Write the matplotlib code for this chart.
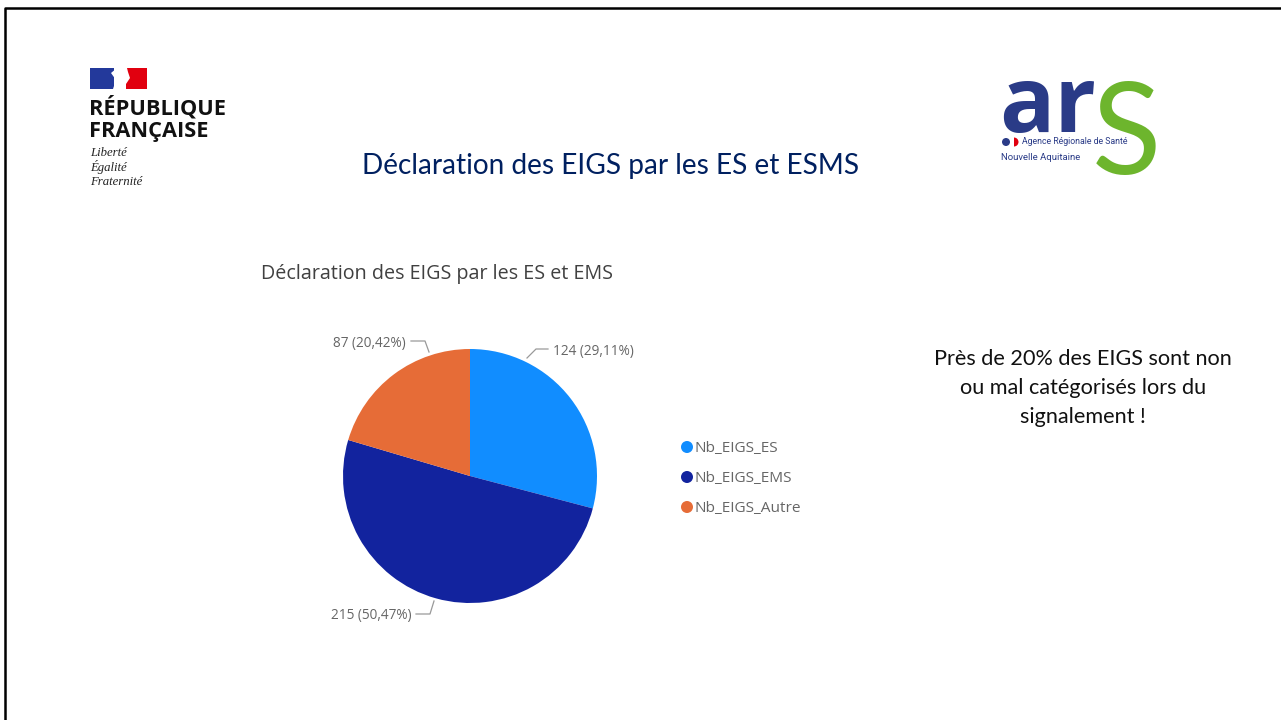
import matplotlib
matplotlib.use("Agg")
import matplotlib.pyplot as plt
from matplotlib.lines import Line2D
from matplotlib.patches import Circle, Polygon, Rectangle, Wedge

W, H = 1281, 720

categories = ["Nb_EIGS_ES", "Nb_EIGS_EMS", "Nb_EIGS_Autre"]
values = [124, 215, 87]
colors = ["#118DFF", "#12239E", "#E66C37"]

slide_title = "Déclaration des EIGS par les ES et ESMS"
chart_title = "Déclaration des EIGS par les ES et EMS"
note_lines = ["Près de 20% des EIGS sont non", "ou mal catégorisés lors du", "signalement !"]
motto = ["Liberté", "Égalité", "Fraternité"]


def pct_label(v):
    return f"{v} ({v / sum(values) * 100:.2f}%)".replace(".", ",")


fig = plt.figure(figsize=(W / 100, H / 100), dpi=100, facecolor="white")

# whole slide in pixel coordinates
bg = fig.add_axes([0, 0, 1, 1])
bg.set_xlim(0, W)
bg.set_ylim(H, 0)
bg.axis("off")

# slide border
bg.add_line(Line2D([5, 5, W], [H, 8, 8], color="black", lw=1.8))

# french republic logo
bg.add_patch(Rectangle((90, 68), 24, 21, color="#23399B", lw=0))
bg.add_patch(Rectangle((126, 68), 21, 21, color="#E1000F", lw=0))
bg.add_patch(Polygon([(113, 89), (116, 80), (111, 73), (117, 68), (127, 68), (128, 72),
                      (130, 78), (126, 84), (122, 89)], color="white", lw=0))
bg.text(89, 108, "RÉPUBLIQUE", family="Open Sans", weight="bold", size=15.7, color="#111111", va="center")
bg.text(89, 132, "FRANÇAISE", family="Open Sans", weight="bold", size=15.7, color="#111111", va="center")
for i, word in enumerate(motto):
    bg.text(90, 153 + i * 14.5, word, family="Liberation Serif", style="italic", size=9.2,
            color="#222222", va="center")

# ars logo
bg.text(999, 132, "ar", family="Open Sans", weight="bold", size=66, color="#2A3B87", va="baseline")
bg.text(1092, 174, "S", family="Lato", size=92, color="#6DB52D", va="baseline")
bg.add_patch(Circle((1006, 142), 4, color="#2A3B87", lw=0))
bg.add_patch(Wedge((1014, 142), 4.5, -90, 90, color="#E1000F", lw=0))
bg.text(1022, 142, "Agence Régionale de Santé", family="Roboto", size=6.3, color="#2A3B87", va="center")
bg.text(1001, 157, "Nouvelle Aquitaine", family="Roboto", size=6.8, color="#2A3B87", va="center")

# titles and note
bg.text(611, 166, slide_title, family="Lato", size=20.2, color="#002060", ha="center", va="center")
bg.text(261, 274, chart_title, family="Open Sans", size=14.2, color="#404040", va="center")
for i, line in enumerate(note_lines):
    bg.text(1083, 359 + i * 29, line, family="Lato", size=15.6, color="#111111", ha="center", va="center")

# pie
pie_ax = fig.add_axes([(470 - 127) / W, 1 - (476 + 127) / H, 254 / W, 254 / H])
pie_ax.pie(values, colors=colors, startangle=90, counterclock=False, radius=1)
pie_ax.set_xlim(-1, 1)
pie_ax.set_ylim(-1, 1)

# data labels with their leader lines, same order as values
label_pos = [(553, 351, "left"), (412, 616, "right"), (406, 343, "right")]
leaders = [
    ([527, 536, 548], [358, 349, 349]),
    ([434, 430, 416], [601, 614, 614]),
    ([429, 425, 411], [352, 341, 341]),
]
for v, (x, y, ha), (lx, ly) in zip(values, label_pos, leaders):
    bg.text(x, y, pct_label(v), family="Open Sans", size=9.8, color="#666666", ha=ha, va="center")
    bg.add_line(Line2D(lx, ly, color="#999999", lw=0.9))

# legend
for i, (cat, col) in enumerate(zip(categories, colors)):
    y = 447 + i * 30
    bg.add_patch(Circle((687, y), 6, color=col, lw=0))
    bg.text(695, y + 1, cat, family="Open Sans", size=11.1, color="#666666", va="center")

fig.savefig("out.png", dpi=100)
